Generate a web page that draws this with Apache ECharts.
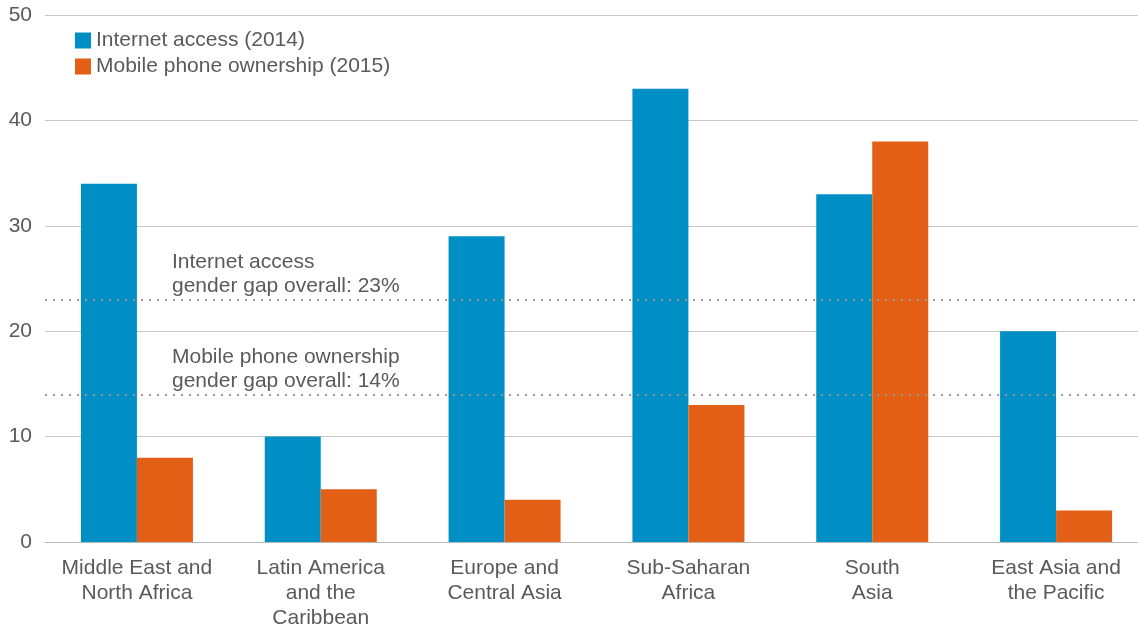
<!DOCTYPE html>
<html>
<head>
<meta charset="utf-8">
<script src="https://cdn.jsdelivr.net/npm/echarts@6/dist/echarts.min.js"></script>
<style>
  html, body { margin: 0; padding: 0; background: #fff; }
  #chart { width: 1138px; height: 627px; }
</style>
</head>
<body>
<div id="chart"></div>
<script>
// regions on the x axis
const regions = [
    "Middle East and\nNorth Africa",
    "Latin America\nand the\nCaribbean",
    "Europe and\nCentral Asia",
    "Sub-Saharan\nAfrica",
    "South\nAsia",
    "East Asia and\nthe Pacific"
];
const internetGap = [34, 10, 29, 43, 33, 20];
const mobileGap = [8, 5, 4, 13, 38, 3];
const overallInternet = 23;
const overallMobile = 14;

const font = "'Liberation Sans', Arial, sans-serif";
const textColor = "#5a5a5a";

const chart = echarts.init(document.getElementById("chart"), null, { renderer: "canvas" });

const option = {
    animation: false,
    textStyle: { fontFamily: font },
    grid: { left: 45, width: 1103, top: 15, bottom: 85, outerBoundsMode: "none" },
    legend: {
        orient: "vertical",
        left: 70,
        top: 25,
        itemWidth: 16,
        itemHeight: 16,
        itemGap: 5,
        icon: "rect",
        textStyle: { fontSize: 21, color: textColor, fontFamily: font }
    },
    xAxis: {
        type: "category",
        data: regions,
        axisTick: { show: false },
        axisLine: { lineStyle: { color: "#bbb", width: 1 } },
        axisLabel: {
            fontSize: 21,
            color: textColor,
            lineHeight: 25,
            margin: 14,
            interval: 0
        }
    },
    yAxis: {
        type: "value",
        min: 0,
        max: 50,
        interval: 10,
        axisLine: { show: false },
        axisTick: { show: false },
        axisLabel: { fontSize: 21, color: textColor, margin: 13 },
        splitLine: { lineStyle: { color: "#c8c8c8", width: 1 } }
    },
    series: [
        {
            name: "Internet access (2014)",
            type: "bar",
            data: internetGap,
            barWidth: 56,
            barGap: "0%",
            itemStyle: { color: "#008fc4" },
            markLine: {
                symbol: "none",
                silent: true,
                lineStyle: { type: [2, 6], color: "#999", width: 2 },
                label: {
                    position: "insideStartTop",
                    distance: [127, 1],
                    align: "left",
                    fontSize: 21,
                    color: textColor,
                    lineHeight: 24,
                    fontFamily: font
                },
                data: [
                    { yAxis: overallInternet, label: { formatter: "Internet access\ngender gap overall: " + overallInternet + "%" } },
                    { yAxis: overallMobile, label: { formatter: "Mobile phone ownership\ngender gap overall: " + overallMobile + "%" } }
                ]
            }
        },
        {
            name: "Mobile phone ownership (2015)",
            type: "bar",
            data: mobileGap,
            barWidth: 56,
            barGap: "0%",
            itemStyle: { color: "#e35f16" }
        }
    ]
};

chart.setOption(option);
</script>
</body>
</html>
